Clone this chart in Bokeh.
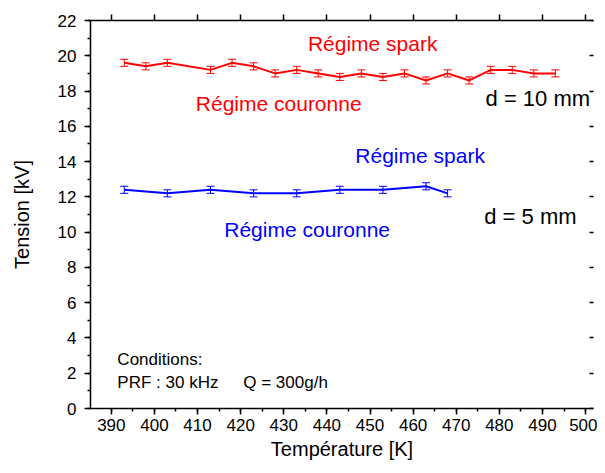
from bokeh.plotting import figure
from bokeh.models import (ColumnDataSource, Whisker, Label, LinearAxis,
                          SingleIntervalTicker, Range1d, TeeHead,
                          CustomLabelingPolicy)
from bokeh.embed import file_html
from bokeh.resources import INLINE

# ---- data ----
temp_10mm = [393, 398, 403, 413, 418, 423, 428, 433, 438, 443,
             448, 453, 458, 463, 468, 473, 478, 483, 488, 493]
tension_10mm = [19.6, 19.4, 19.6, 19.2, 19.6, 19.4, 19.0, 19.2, 19.0, 18.8,
                19.0, 18.8, 19.0, 18.6, 19.0, 18.6, 19.2, 19.2, 19.0, 19.0]
err_10mm = [0.2] * 20

temp_5mm = [393, 403, 413, 423, 433, 443, 453, 463, 468]
tension_5mm = [12.4, 12.2, 12.4, 12.2, 12.2, 12.4, 12.4, 12.6, 12.2]
err_5mm = [0.2] * 9

x_label = "Température [K]"
y_label = "Tension [kV]"

FONT = "Liberation Sans"
RED = "#FF0000"
BLUE = "#0000FF"

p = figure(width=597, height=465,
           x_range=Range1d(385.17, 501.84), y_range=Range1d(0, 22),
           output_backend="svg", toolbar_location=None,
           min_border_left=90, min_border_right=0,
           min_border_top=20, min_border_bottom=57)
p.outline_line_color = None
p.grid.visible = False
p.background_fill_color = "white"
p.border_fill_color = "white"

hide_labels = CustomLabelingPolicy(code="""
    for (const i of indices) { indices.unset(i) }
    return indices
""")


def style_axis(ax, labels=True):
    ax.axis_line_color = "black"
    ax.axis_line_width = 1.5
    ax.major_tick_line_color = "black"
    ax.major_tick_line_width = 1.5
    ax.minor_tick_line_color = "black"
    ax.minor_tick_line_width = 1.5
    ax.major_label_text_font = FONT
    ax.major_label_text_color = "black"
    ax.major_label_text_font_size = "17px" if labels else "1px"
    if not labels:
        ax.major_label_policy = hide_labels
    ax.axis_label_text_font = FONT
    ax.axis_label_text_font_style = "normal"
    ax.axis_label_text_font_size = "20px"
    ax.axis_label_text_color = "black"


# bottom axis
xa = p.xaxis[0]
xa.ticker = SingleIntervalTicker(interval=10, num_minor_ticks=2)
style_axis(xa)
xa.major_tick_out = 6
xa.major_tick_in = 0
xa.minor_tick_out = 3
xa.minor_tick_in = 0
xa.major_label_standoff = 4
xa.axis_label = x_label
xa.axis_label_standoff = 4

# left axis
ya = p.yaxis[0]
ya.ticker = SingleIntervalTicker(interval=2, num_minor_ticks=2)
style_axis(ya)
ya.major_tick_out = 6
ya.major_tick_in = 0
ya.minor_tick_out = 3
ya.minor_tick_in = 0
ya.major_label_standoff = 8
ya.axis_label = y_label
ya.axis_label_standoff = 22

# top axis
ta = LinearAxis(ticker=SingleIntervalTicker(interval=10, num_minor_ticks=2))
style_axis(ta, labels=False)
ta.major_tick_out = 6
ta.major_tick_in = 0
ta.minor_tick_out = 0
ta.minor_tick_in = 0
ta.major_label_standoff = 0
p.add_layout(ta, "above")

# right axis (its line lies just outside the picture: only inward ticks show)
ra = LinearAxis(ticker=SingleIntervalTicker(interval=2, num_minor_ticks=2))
style_axis(ra, labels=False)
ra.axis_line_color = None
ra.major_tick_out = 0
ra.major_tick_in = 4
ra.minor_tick_out = 0
ra.minor_tick_in = 0
ra.major_label_standoff = 0
p.add_layout(ra, "right")


def add_series(xs, ys, es, color):
    src = ColumnDataSource(dict(
        x=xs, y=ys,
        upper=[v + e for v, e in zip(ys, es)],
        lower=[v - e for v, e in zip(ys, es)]))
    p.line("x", "y", source=src, line_color=color, line_width=2)
    w = Whisker(source=src, base="x", upper="upper", lower="lower",
                line_color=color, line_width=1,
                upper_head=TeeHead(size=8, line_color=color, line_width=1),
                lower_head=TeeHead(size=8, line_color=color, line_width=1))
    p.add_layout(w)


add_series(temp_10mm, tension_10mm, err_10mm, RED)
add_series(temp_5mm, tension_5mm, err_5mm, BLUE)


def add_text(x, y, text, color, size="21px"):
    p.add_layout(Label(x=x, y=y, text=text, text_color=color,
                       text_font=FONT, text_font_size=size,
                       text_align="left", text_baseline="alphabetic"))


add_text(435.6, 20.69, "Régime spark", RED)
add_text(409.6, 17.29, "Régime couronne", RED)
add_text(476.8, 17.57, "d = 10 mm", "black", "22px")
add_text(446.6, 14.34, "Régime spark", BLUE)
add_text(416.2, 10.15, "Régime couronne", BLUE)
add_text(476.5, 10.88, "d = 5 mm", "black", "22px")
add_text(391.4, 2.79, "Conditions:", "black", "17px")
add_text(391.4, 1.48, "PRF : 30 kHz", "black", "17px")
add_text(420.6, 1.48, "Q = 300g/h", "black", "17px")

open("out.html", "w").write(file_html(p, INLINE))
